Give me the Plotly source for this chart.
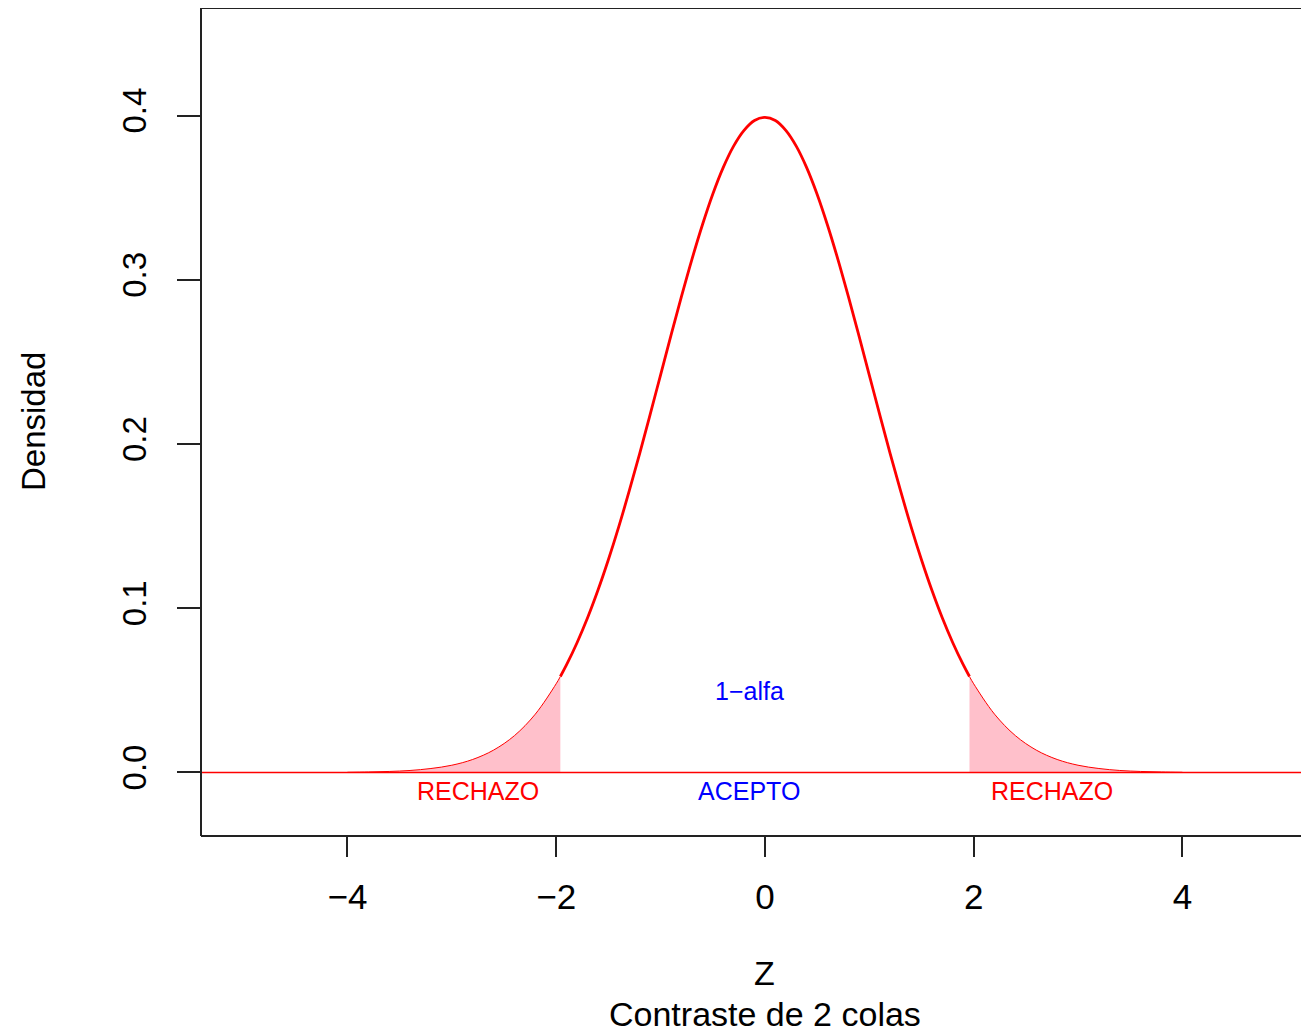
import plotly.graph_objects as go

# Density values (standard normal shape), z from -4 to 4
z_vals = [-4.0, -3.8, -3.6, -3.4, -3.2, -3.0, -2.8, -2.6, -2.4, -2.2, -2.0, -1.96,
          -1.9, -1.8, -1.7, -1.6, -1.5, -1.4, -1.3, -1.2, -1.1, -1.0,
          -0.9, -0.8, -0.7, -0.6, -0.5, -0.4, -0.3, -0.2, -0.1, 0.0,
          0.1, 0.2, 0.3, 0.4, 0.5, 0.6, 0.7, 0.8, 0.9, 1.0,
          1.1, 1.2, 1.3, 1.4, 1.5, 1.6, 1.7, 1.8, 1.9, 1.96, 2.0,
          2.2, 2.4, 2.6, 2.8, 3.0, 3.2, 3.4, 3.6, 3.8, 4.0]
dens_vals = [0.0001, 0.0003, 0.0006, 0.0012, 0.0024, 0.0044, 0.0079, 0.0136, 0.0224, 0.0355, 0.0540, 0.0584,
             0.0656, 0.0790, 0.0940, 0.1109, 0.1295, 0.1497, 0.1714, 0.1942, 0.2179, 0.2420,
             0.2661, 0.2897, 0.3123, 0.3332, 0.3521, 0.3683, 0.3814, 0.3910, 0.3970, 0.3989,
             0.3970, 0.3910, 0.3814, 0.3683, 0.3521, 0.3332, 0.3123, 0.2897, 0.2661, 0.2420,
             0.2179, 0.1942, 0.1714, 0.1497, 0.1295, 0.1109, 0.0940, 0.0790, 0.0656, 0.0584, 0.0540,
             0.0355, 0.0224, 0.0136, 0.0079, 0.0044, 0.0024, 0.0012, 0.0006, 0.0003, 0.0001]
z_crit = 1.96

x_ticks = [-4, -2, 0, 2, 4]
y_ticks = [0.0, 0.1, 0.2, 0.3, 0.4]

labels = ["RECHAZO", "ACEPTO", "RECHAZO", "1−alfa"]
label_x = [-2.75, -0.155, 2.75, -0.15]
label_y = [-0.011, -0.011, -0.011, 0.0495]
label_col = ["#FF0000", "#0000FF", "#FF0000", "#0000FF"]

FONT = "Liberation Sans, Arial, Helvetica, sans-serif"
RED = "#FF0000"
PINK = "#FFC0CB"

left_x = [x for x in z_vals if x <= -z_crit]
left_y = [d for x, d in zip(z_vals, dens_vals) if x <= -z_crit]
right_x = [x for x in z_vals if x >= z_crit]
right_y = [d for x, d in zip(z_vals, dens_vals) if x >= z_crit]
mid_x = [x for x in z_vals if -z_crit <= x <= z_crit]
mid_y = [d for x, d in zip(z_vals, dens_vals) if -z_crit <= x <= z_crit]

fig = go.Figure()
for xs, ys in [(left_x, left_y), (right_x, right_y)]:
    fig.add_trace(go.Scatter(x=xs, y=ys, mode="lines", fill="tozeroy", fillcolor=PINK,
                             line=dict(color=RED, width=1, shape="spline"),
                             hoverinfo="skip", showlegend=False))
fig.add_trace(go.Scatter(x=mid_x, y=mid_y, mode="lines",
                         line=dict(color=RED, width=2.8, shape="spline"),
                         showlegend=False))

# horizontal reference line at 0
fig.add_shape(type="line", xref="paper", yref="y", x0=0, x1=1, y0=0, y1=0,
              line=dict(color=RED, width=1.5))
# plot box (right side falls outside the picture)
BOX = dict(color="#222222", width=2)
fig.add_shape(type="line", xref="paper", yref="paper", x0=0, x1=0, y0=0, y1=1, line=BOX)
fig.add_shape(type="line", xref="paper", yref="paper", x0=0, x1=1, y0=1, y1=1, line=BOX)
fig.add_shape(type="line", xref="paper", yref="paper", x0=0, x1=1, y0=0, y1=0, line=BOX)

for t, x, y, c in zip(labels, label_x, label_y, label_col):
    fig.add_annotation(x=x, y=y, text=t, showarrow=False,
                       font=dict(family=FONT, size=25, color=c))

fig.add_annotation(x=0, xref="x", y=0, yref="paper", yanchor="middle", yshift=-137,
                   text="Z", showarrow=False, borderpad=0,
                   font=dict(family=FONT, size=34, color="black"))
fig.add_annotation(x=0, xref="x", y=0, yref="paper", yanchor="middle", yshift=-178,
                   text="Contraste de 2 colas", showarrow=False, borderpad=0,
                   font=dict(family=FONT, size=34, color="black"))
fig.add_annotation(x=0, xref="paper", xanchor="center", xshift=-168, y=0.5, yref="paper",
                   text="Densidad", textangle=-90, showarrow=False,
                   font=dict(family=FONT, size=33, color="black"))

fig.update_layout(
    width=1301, height=1028,
    margin=dict(l=193, r=0, t=0, b=200, pad=0),
    plot_bgcolor="white", paper_bgcolor="white",
    xaxis=dict(range=[-5.403, 5.213], tickvals=x_ticks, ticks="outside", ticklen=20,
               tickwidth=2, tickcolor="#222222", showgrid=False, zeroline=False,
               showline=False, tickfont=dict(family=FONT, size=35, color="black"),
               ticklabelstandoff=10),
    yaxis=dict(range=[-0.0387, 0.4655], tickvals=y_ticks, tickformat=".1f", ticks="outside",
               ticklen=23, tickwidth=2, tickcolor="#222222", showgrid=False, zeroline=False,
               showline=False, tickangle=-90, tickfont=dict(family=FONT, size=33, color="black"),
               ticklabelstandoff=18),
)

fig.write_html("out.html")
